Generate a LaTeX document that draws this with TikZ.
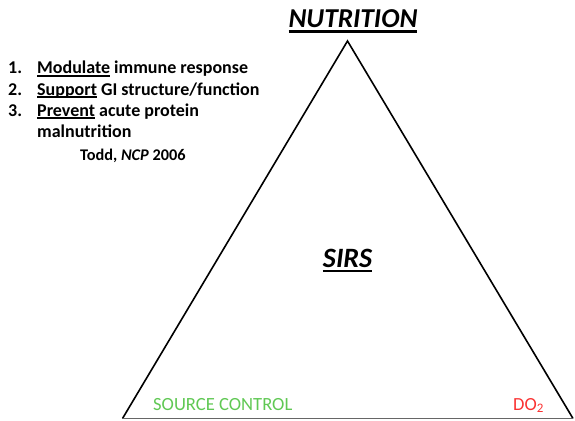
\documentclass[tikz,border=0pt]{standalone}
\usepackage{fontspec}
\setmainfont{Carlito}
\newcommand{\ulx}[3]{\setbox0\hbox{#1}\rlap{\rule[-#2]{\wd0}{#3}}\box0\relax}
\definecolor{srcgreen}{RGB}{96,200,84}
\definecolor{doRed}{RGB}{250,50,50}
\begin{document}
\begin{tikzpicture}[x=1pt,y=-1pt,
  lbl/.style={inner sep=0pt,anchor=base west,font=\fontsize{18}{18}\selectfont\bfseries},
  big/.style={inner sep=0pt,anchor=base,font=\fontsize{27.3}{27.3}\selectfont\bfseries\itshape}]
\useasboundingbox (0,0) rectangle (575,420);
% triangle
\coordinate (apex) at (347.5,41);
\coordinate (bl) at (122.5,418.5);
\coordinate (br) at (573,418.5);
\draw[line width=1.6pt,line join=miter] (bl) -- (apex) -- (br);
\draw[line width=1pt,black!60] (bl) -- (br);
% titles
\node[big] (nut) at (353,28) {\ulx{NUTRITION}{4.5pt}{2.4pt}};
\node[big,font=\fontsize{28}{28}\selectfont\bfseries\itshape] (sirs) at (347.5,267) {\ulx{SIRS}{5pt}{2.4pt}};
% list
\node[lbl] (n1) at (8,74) {1.};
\node[lbl] (t1) at (37,74) {\ulx{Modulate}{2.6pt}{1.3pt} immune response};
\node[lbl] (n2) at (8,95) {2.};
\node[lbl] (t2) at (37,95) {\ulx{Support}{2.6pt}{1.3pt} GI structure/function};
\node[lbl] (n3) at (8,116) {3.};
\node[lbl] (t3) at (37,116) {\ulx{Prevent}{2.6pt}{1.3pt} acute protein};
\node[lbl] (t4) at (37,137) {malnutrition};
\node[lbl,font=\fontsize{16.3}{16.3}\selectfont\bfseries] (todd) at (80,160) {Todd, \textit{NCP} 2006};
% corners
\node[inner sep=0pt,anchor=base west,font=\fontsize{18.6}{18.6}\selectfont,text=srcgreen] (src) at (153,410) {SOURCE CONTROL};
\node[inner sep=0pt,anchor=base west,font=\fontsize{18.5}{18.5}\selectfont,text=doRed] (do2) at (513,410) {DO\textsubscript{2}};
\end{tikzpicture}
\end{document}
